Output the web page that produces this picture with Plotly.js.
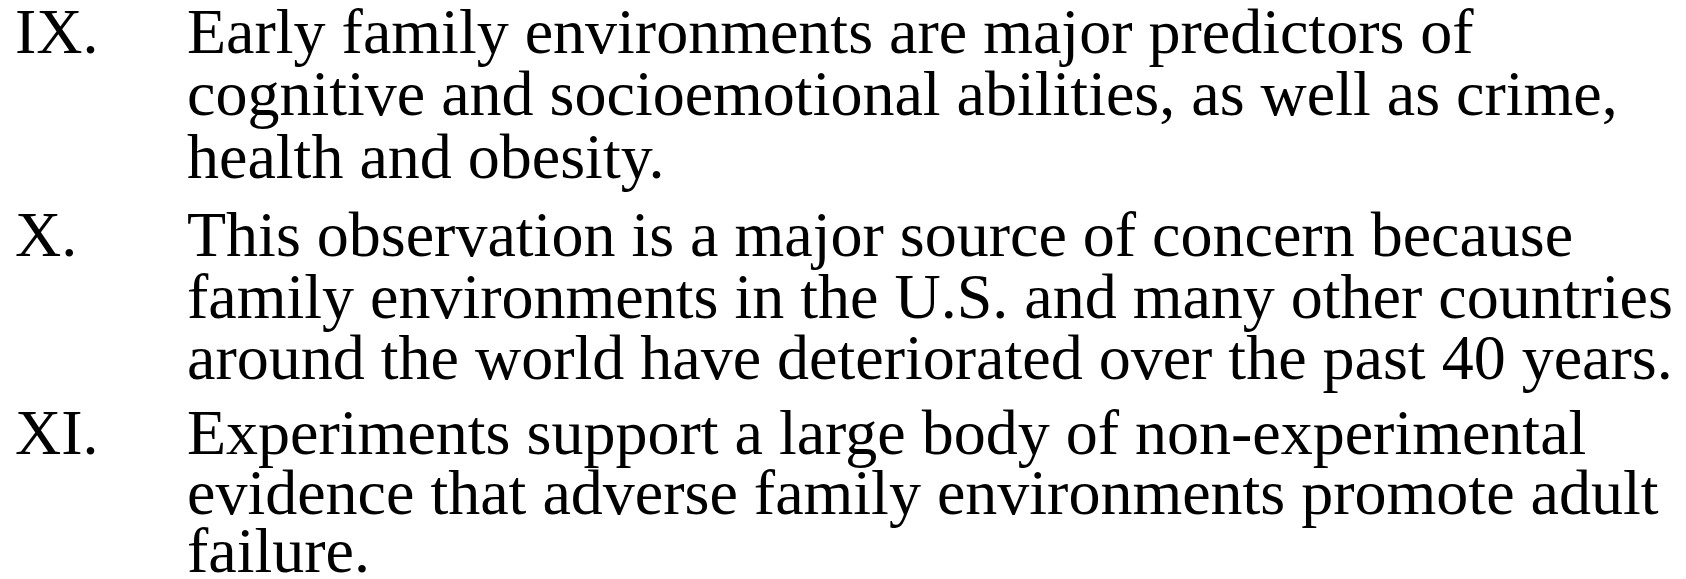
<!DOCTYPE html>
<html>
<head>
<meta charset="utf-8">
<script src="https://cdn.plot.ly/plotly-3.0.1.min.js"></script>
<style>html,body{margin:0;padding:0;background:#fff;}#chart{width:1686px;height:579px;}</style>
</head>
<body>
<div id="chart"></div>
<script>
// Item numerals and their text lines
const numerals = ["IX.", "X.", "XI."];
const itemLines = [
  ["Early family environments are major predictors of",
   "cognitive and socioemotional abilities, as well as crime,",
   "health and obesity."],
  ["This observation is a major source of concern because",
   "family environments in the U.S. and many other countries",
   "around the world have deteriorated over the past 40 years."],
  ["Experiments support a large body of non-experimental",
   "evidence that adverse family environments promote adult",
   "failure."]
];
// Baseline of each line (pixels from top)
const lineBaseline = [
  [53, 115, 178],
  [256, 318, 379],
  [454, 514, 572]
];
const numeralX = 14;
const textX = 186;
const FONT_SIZE = 64;

const FONT = {family: "Liberation Serif, Times New Roman, serif", size: FONT_SIZE, color: "#000"};
// text box middle sits ~0.3375em above the baseline for Liberation Serif
const toCentre = b => b - 0.3375 * FONT_SIZE;
const annotations = [];
numerals.forEach((n, i) => {
  annotations.push({x: numeralX, y: toCentre(lineBaseline[i][0]), xref: "x", yref: "y", text: n,
    showarrow: false, xanchor: "left", yanchor: "middle", font: FONT, borderpad: 0});
  itemLines[i].forEach((t, j) => {
    annotations.push({x: textX, y: toCentre(lineBaseline[i][j]), xref: "x", yref: "y", text: t,
      showarrow: false, xanchor: "left", yanchor: "middle", font: FONT, borderpad: 0});
  });
});

Plotly.newPlot("chart", [], {
  width: 1686, height: 579,
  margin: {l: 0, r: 0, t: 0, b: 0},
  paper_bgcolor: "#fff", plot_bgcolor: "#fff",
  xaxis: {range: [0, 1686], visible: false, fixedrange: true},
  yaxis: {range: [579, 0], visible: false, fixedrange: true},
  annotations: annotations,
  showlegend: false
}, {staticPlot: true, displayModeBar: false});
</script>
</body>
</html>
